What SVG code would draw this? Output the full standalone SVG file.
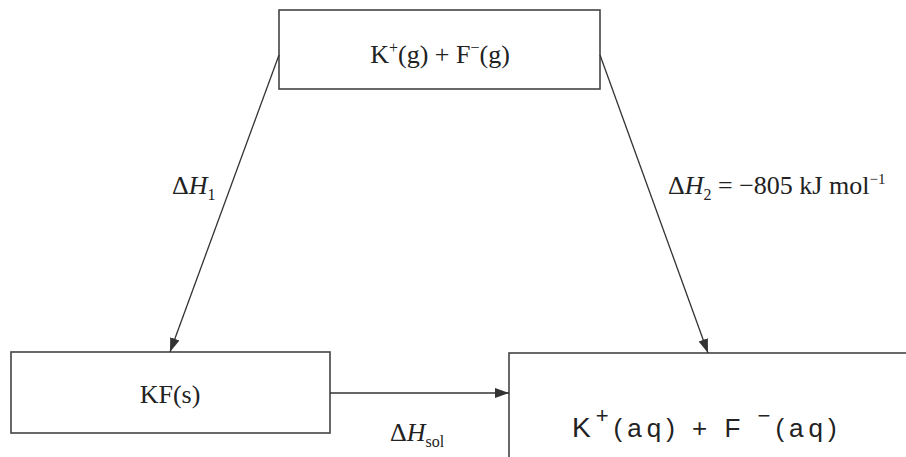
<svg xmlns="http://www.w3.org/2000/svg" width="906" height="457" viewBox="0 0 906 457">
<style>
.box{fill:#fff;stroke:#444;stroke-width:1.6}
.conn{stroke:#333;stroke-width:1.3;fill:none}
.t{font-family:"Liberation Serif","Times New Roman",serif;font-size:26px;fill:#222}
.hw{font-family:"Liberation Sans",Arial,sans-serif;font-size:28px;fill:#222;letter-spacing:5px}
</style>
<defs>
<marker id="ah" viewBox="0 0 10 10" refX="10" refY="5" markerWidth="14" markerHeight="14" markerUnits="userSpaceOnUse" orient="auto">
<path d="M0,1.5 L10,5 L0,8.5 Z" fill="#333"/>
</marker>
</defs>
<rect width="906" height="457" fill="#fff"/>
<g id="top">
<rect class="box" x="279" y="10" width="321" height="79"/>
<text class="t" x="440" y="63" text-anchor="middle">K<tspan font-size="16" dy="-10">+</tspan><tspan dy="10">(g) + F</tspan><tspan font-size="16" dy="-10">−</tspan><tspan dy="10">(g)</tspan></text>
</g>
<g id="kf">
<rect class="box" x="11" y="352" width="319" height="81"/>
<text class="t" x="170" y="403" text-anchor="middle">KF(s)</text>
</g>
<g id="aq">
<rect class="box" x="509" y="353" width="410" height="120"/>
<text class="hw" x="572" y="437">K<tspan font-size="22" dy="-14">+</tspan><tspan font-size="26" dy="14">(aq)  +  F </tspan><tspan font-size="22" dy="-14">−</tspan><tspan font-size="26" dy="14">(aq)</tspan></text>
</g>
<g id="connectors">
<line class="conn" x1="279" y1="55" x2="170" y2="352" marker-end="url(#ah)"/>
<line class="conn" x1="600" y1="55" x2="708" y2="353" marker-end="url(#ah)"/>
<line class="conn" x1="330" y1="393" x2="509" y2="393" marker-end="url(#ah)"/>
</g>
<g id="labels">
<text class="t" x="172" y="194">Δ<tspan font-style="italic">H</tspan><tspan font-size="16" dy="6">1</tspan></text>
<text class="t" x="668" y="194">Δ<tspan font-style="italic">H</tspan><tspan font-size="16" dy="6">2</tspan><tspan dy="-6"> = −805 kJ mol</tspan><tspan font-size="15" dy="-10">−1</tspan></text>
<text class="t" x="390" y="441">Δ<tspan font-style="italic">H</tspan><tspan font-size="16" dy="6">sol</tspan></text>
</g>
</svg>
